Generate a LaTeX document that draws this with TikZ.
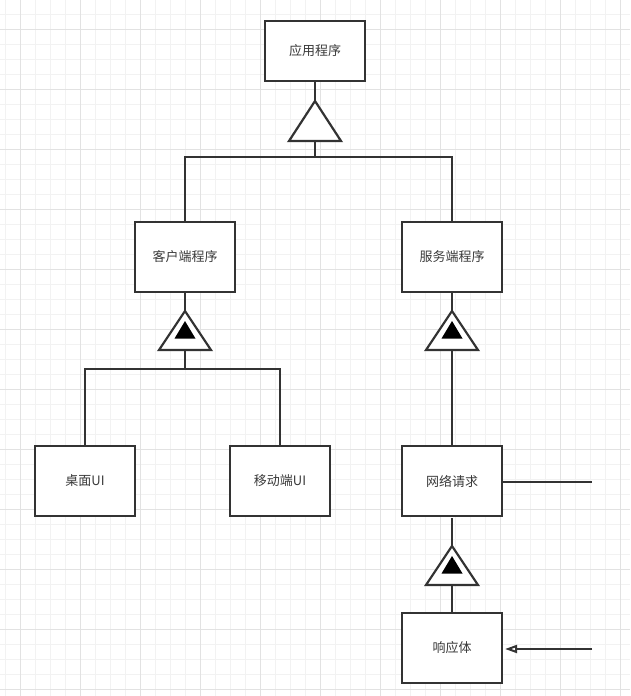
\documentclass[tikz,border=0pt]{standalone}
\usepackage{fontspec}
\newfontfamily\cjk{Noto Sans CJK SC}
\usetikzlibrary{arrows.meta}
\definecolor{ln}{HTML}{333333}
\definecolor{txt}{HTML}{3A3A3A}
\definecolor{gridminor}{HTML}{F2F2F2}
\definecolor{gridmajor}{HTML}{E2E2E2}
\begin{document}
\begin{tikzpicture}[x=1pt,y=-1pt,
  box/.style={draw=ln, line width=2.2pt, fill=white, minimum width=100pt, minimum height=70pt, inner sep=0pt, font=\cjk\fontsize{13}{15}\selectfont, text=txt},
  conn/.style={draw=ln, line width=2.2pt},
  inh/.pic={\draw[conn, fill=white, line join=miter] (0,0) -- (26,40) -- (-26,40) -- cycle;},
  inhf/.pic={\draw[conn, fill=white, line join=miter] (0,0) -- (26,39) -- (-26,39) -- cycle;
             \fill[black] (0,10) -- (10.5,27.5) -- (-10.5,27.5) -- cycle;}
  ]
\useasboundingbox (0,0) rectangle (630,696);
\fill[white] (0,0) rectangle (630,696);
% grid
\foreach \i in {0,...,41} {\draw[gridminor, line width=1pt] (5+15*\i,0) -- (5+15*\i,696);}
\foreach \i in {0,...,45} {\draw[gridminor, line width=1pt] (0,14+15*\i) -- (630,14+15*\i);}
\foreach \i in {0,...,10} {\draw[gridmajor, line width=1pt] (20+60*\i,0) -- (20+60*\i,696);}
\foreach \i in {0,...,11} {\draw[gridmajor, line width=1pt] (0,29+60*\i) -- (630,29+60*\i);}

% boxes
\node[box, minimum height=60pt] (app) at (315,51) {应用程序};
\node[box] (client) at (185,257) {客户端程序};
\node[box] (server) at (452,257) {服务端程序};
\node[box] (desk) at (85,481) {桌面UI};
\node[box] (mobile) at (280,481) {移动端UI};
\node[box] (net) at (452,481) {网络请求};
\node[box] (resp) at (452,648) {响应体};

% triangle anchor points
\coordinate (t0a) at (315,101);
\coordinate (t0b) at (315,141);
\coordinate (j0) at (315,157);
\coordinate (t1a) at (185,311);
\coordinate (t1b) at (185,350);
\coordinate (j1) at (185,369);
\coordinate (t2a) at (452,311);
\coordinate (t2b) at (452,350);
\coordinate (n3) at (452,518);
\coordinate (t3a) at (452,546);
\coordinate (t3b) at (452,585);
\coordinate (netend) at (592,482);
\coordinate (respend) at (592,649);

% connectors
\draw[conn] (app.south) -- (t0a);
\draw[conn] (t0b) -- (j0);
\draw[conn] (client.north) |- (j0) -| (server.north);
\draw[conn] (client.south) -- (t1a);
\draw[conn] (t1b) -- (j1);
\draw[conn] (desk.north) |- (j1) -| (mobile.north);
\draw[conn] (server.south) -- (t2a);
\draw[conn] (t2b) -- (net.north);
\draw[conn] (n3) -- (t3a);
\draw[conn] (t3b) -- (resp.north);
\draw[conn] (net.east |- netend) -- (netend);
\draw[conn, shorten >=2pt, -{Triangle[open, length=12pt, width=8pt, fill=white, line width=2pt]}] (respend) -- (resp.east |- respend);

% triangles
\pic at (t0a) {inh};
\pic at (t1a) {inhf};
\pic at (t2a) {inhf};
\pic at (t3a) {inhf};
\end{tikzpicture}
\end{document}
